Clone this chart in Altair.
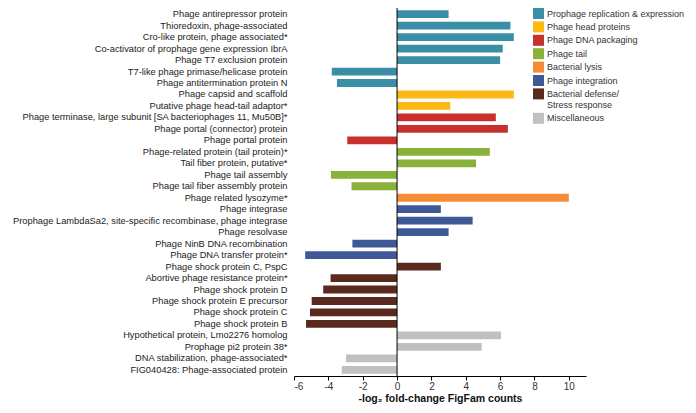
import altair as alt
import pandas as pd

labels = [
    "Phage antirepressor protein",
    "Thioredoxin, phage-associated",
    "Cro-like protein, phage associated*",
    "Co-activator of prophage gene expression IbrA",
    "Phage T7 exclusion protein",
    "T7-like phage primase/helicase protein",
    "Phage antitermination protein N",
    "Phage capsid and scaffold",
    "Putative phage head-tail adaptor*",
    "Phage terminase, large subunit [SA bacteriophages 11, Mu50B]*",
    "Phage portal (connector) protein",
    "Phage portal protein",
    "Phage-related protein (tail protein)*",
    "Tail fiber protein, putative*",
    "Phage tail assembly",
    "Phage tail fiber assembly protein",
    "Phage related lysozyme*",
    "Phage integrase",
    "Prophage LambdaSa2, site-specific recombinase, phage integrase",
    "Phage resolvase",
    "Phage NinB DNA recombination",
    "Phage DNA transfer protein*",
    "Phage shock protein C, PspC",
    "Abortive phage resistance protein*",
    "Phage shock protein D",
    "Phage shock protein E precursor",
    "Phage shock protein C",
    "Phage shock protein B",
    "Hypothetical protein, Lmo2276 homolog",
    "Prophage pi2 protein 38*",
    "DNA stabilization, phage-associated*",
    "FIG040428: Phage-associated protein",
]

values = [
    3.0, 6.6, 6.8, 6.15, 6.0, -3.8, -3.5,
    6.8, 3.1,
    5.75, 6.45, -2.9,
    5.4, 4.6, -3.85, -2.65,
    10.0,
    2.55, 4.4, 3.0, -2.6, -5.35,
    2.55, -3.87, -4.3, -4.97, -5.07, -5.3,
    6.05, 4.93, -2.97, -3.22,
]

group_names = [
    "Prophage replication & expression",
    "Phage head proteins",
    "Phage DNA packaging",
    "Phage tail",
    "Bacterial lysis",
    "Phage integration",
    "Bacterial defense/ Stress response",
    "Miscellaneous",
]
group_counts = [7, 2, 3, 4, 1, 5, 6, 4]
group_colors = ["#3A8FA6", "#FDB913", "#C8302E", "#8AB13A", "#F68B35", "#3F5897", "#5A2A1E", "#C0C0C0"]

x_ticks = [-6, -4, -2, 0, 2, 4, 6, 8, 10]
x_title = "-log₂ fold-change FigFam counts"

groups = []
for g, c in zip(group_names, group_counts):
    groups += [g] * c

df = pd.DataFrame({"label": labels, "value": values, "group": groups})
zero = pd.DataFrame({"value": [0]})

FONT = "Liberation Sans"
xscale = alt.Scale(domain=[-6, 11], nice=False)
xaxis = alt.Axis(
    values=x_ticks, grid=False,
    labelOverlap=False, labelExpr="'' + datum.value",
    domainColor="#000000", tickColor="#000000", tickSize=4,
    labelFontSize=10, labelColor="#333333", labelFont=FONT,
    titleFontSize=10.5, titleFontWeight="bold", titleFont=FONT,
    titleColor="#111111", titlePadding=2, labelPadding=1,
)

bars = alt.Chart(df).mark_bar().encode(
    y=alt.Y(
        "label:N",
        sort=labels,
        title=None,
        scale=alt.Scale(paddingInner=0.32, paddingOuter=0.2),
        axis=alt.Axis(
            domain=False, ticks=False, labelPadding=7, labelLimit=400,
            labelFontSize=9.3, labelColor="#222222", labelFont=FONT,
        ),
    ),
    x=alt.X("value:Q", title=x_title, scale=xscale, axis=xaxis),
    color=alt.Color(
        "group:N",
        scale=alt.Scale(domain=group_names, range=group_colors),
        legend=alt.Legend(
            title=None, orient="none", legendX=239, legendY=0,
            symbolType="square", symbolSize=121, symbolStrokeWidth=0,
            labelFontSize=9.0, labelColor="#333333", labelFont=FONT,
            rowPadding=2.4, labelOffset=3, labelLimit=300,
            labelExpr="datum.label == 'Bacterial defense/ Stress response' ? ['Bacterial defense/', '   Stress response'] : datum.label",
        ),
    ),
)

rule = alt.Chart(zero).mark_rule(color="#000000", strokeWidth=1).encode(
    x=alt.X("value:Q", title=x_title, scale=xscale, axis=xaxis)
)

chart = alt.layer(bars, rule).properties(
    width=292,
    height=368,
    autosize=alt.AutoSizeParams(type="none"),
    padding={"left": 286, "top": 0, "right": 102, "bottom": 29},
).configure_view(stroke=None).configure_axis(labelOverlap=False)

chart.save("out.html", embed_options={"renderer": "svg", "actions": False})
